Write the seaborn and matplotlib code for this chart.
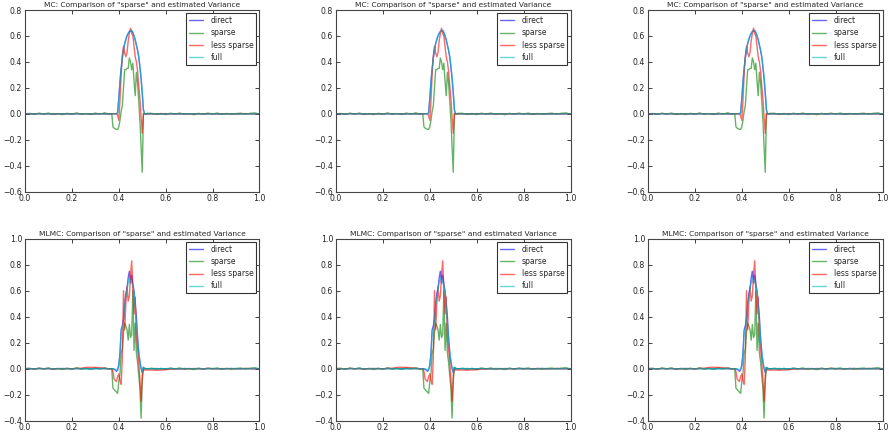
import matplotlib
matplotlib.use("Agg")
import matplotlib.pyplot as plt
import pandas as pd
import seaborn as sns

# ---------------- data ----------------
x_left = [0.00, 0.02, 0.04, 0.06, 0.08, 0.10, 0.12, 0.14, 0.16, 0.18,
          0.20, 0.22, 0.24, 0.26, 0.28, 0.30, 0.32, 0.34, 0.36]
x_mid = [0.370, 0.375, 0.380, 0.385, 0.390, 0.395, 0.400, 0.405, 0.410, 0.415,
         0.420, 0.425, 0.430, 0.435, 0.440, 0.445, 0.450, 0.455, 0.460, 0.465,
         0.470, 0.475, 0.480, 0.485, 0.490, 0.495, 0.500, 0.505, 0.510, 0.515, 0.520]
x_right = [0.54, 0.56, 0.58, 0.60, 0.62, 0.64, 0.66, 0.68, 0.70, 0.72, 0.74, 0.76,
           0.78, 0.80, 0.82, 0.84, 0.86, 0.88, 0.90, 0.92, 0.94, 0.96, 0.98, 1.00]

# quiet flat parts (direct / full)
quiet_left = [0.001, 0.0, -0.001, 0.001, 0.0, 0.001, -0.001, 0.0, 0.001, 0.0,
              -0.001, 0.001, 0.0, 0.001, -0.001, 0.0, 0.001, 0.0, 0.0]
quiet_right = [0.0, 0.001, -0.001, 0.0, 0.001, 0.0, -0.001, 0.001, 0.0, 0.0, 0.001, -0.001,
               0.0, 0.001, 0.0, -0.001, 0.0, 0.001, 0.0, -0.001, 0.001, 0.0, 0.001, 0.0]
# noisy flat parts (sparse)
noisy_left = [0.0, 0.003, -0.004, 0.005, -0.002, 0.006, -0.005, 0.002, -0.006, 0.004,
              -0.003, 0.007, -0.004, 0.002, -0.005, 0.006, -0.003, 0.008, -0.004]
noisy_right = [0.004, -0.005, 0.003, -0.006, 0.005, -0.002, 0.006, -0.004, 0.002, -0.007,
               0.004, -0.003, 0.005, -0.002, 0.006, -0.005, 0.003, -0.004, 0.002, 0.005,
               -0.003, 0.004, 0.007, -0.002]
# less sparse flat parts
less_left_mc = [0.0, 0.001, -0.001, 0.002, 0.0, 0.001, -0.002, 0.001, 0.0, 0.001,
                -0.001, 0.002, 0.0, 0.001, -0.001, 0.0, 0.002, -0.001, 0.0]
less_right_mc = [0.001, -0.001, 0.0, 0.002, -0.001, 0.0, 0.001, -0.002, 0.0, 0.001, 0.0, -0.001,
                 0.002, 0.0, -0.001, 0.001, 0.0, 0.001, -0.001, 0.0, 0.002, 0.0, -0.001, 0.0]
less_left_mlmc = [0.0, 0.001, -0.001, 0.002, 0.0, 0.001, -0.002, 0.001, 0.0, 0.001,
                  -0.001, 0.002, 0.004, 0.010, 0.011, 0.010, 0.008, 0.002, 0.0]
less_right_mlmc = [-0.010, -0.012, -0.010, -0.008, -0.004, -0.002, 0.0, -0.001, 0.0, 0.001, 0.0, -0.001,
                   0.002, 0.0, -0.001, 0.001, 0.0, 0.001, -0.001, 0.0, 0.002, 0.0, -0.001, 0.0]

mc_direct_mid = [0.0, 0.0, 0.0, 0.0, 0.0, 0.01, 0.12, 0.25, 0.35, 0.43,
                 0.49, 0.54, 0.57, 0.60, 0.62, 0.635, 0.64, 0.64, 0.625, 0.60,
                 0.57, 0.53, 0.49, 0.44, 0.36, 0.27, 0.16, 0.03, 0.0, 0.0, 0.0]
mc_full_mid = [0.0, 0.0, 0.0, 0.0, 0.0, 0.0, 0.11, 0.24, 0.35, 0.43,
               0.50, 0.54, 0.58, 0.60, 0.62, 0.63, 0.64, 0.645, 0.63, 0.60,
               0.57, 0.53, 0.49, 0.44, 0.37, 0.28, 0.17, 0.03, 0.0, 0.0, 0.0]
mc_less_mid = [0.0, 0.0, 0.0, 0.0, 0.0, -0.01, -0.05, 0.10, 0.30, 0.45,
               0.52, 0.47, 0.44, 0.47, 0.56, 0.62, 0.66, 0.62, 0.60, 0.52,
               0.44, 0.40, 0.33, 0.22, 0.12, -0.02, -0.15, 0.0, 0.0, 0.0, 0.0]
mc_sparse_mid = [0.002, -0.10, -0.11, -0.115, -0.12, -0.12, -0.10, -0.05, 0.02, 0.06,
                 0.20, 0.34, 0.34, 0.35, 0.35, 0.43, 0.40, 0.34, 0.39, 0.25,
                 0.14, 0.32, 0.24, 0.10, -0.05, -0.25, -0.45, 0.0, 0.003, -0.002, 0.004]

mlmc_direct_mid = [0.0, 0.0, -0.005, -0.01, -0.02, -0.01, 0.03, 0.12, 0.30, 0.33,
                   0.38, 0.50, 0.58, 0.62, 0.70, 0.75, 0.66, 0.72, 0.65, 0.60,
                   0.50, 0.40, 0.25, 0.12, 0.05, 0.0, -0.03, 0.01, 0.0, 0.0, 0.0]
mlmc_full_mid = [0.0, 0.0, 0.0, -0.005, -0.01, 0.0, 0.02, 0.10, 0.28, 0.31,
                 0.36, 0.48, 0.55, 0.60, 0.66, 0.70, 0.68, 0.66, 0.64, 0.58,
                 0.47, 0.35, 0.22, 0.14, 0.06, 0.01, -0.03, 0.01, 0.0, 0.0, 0.0]
mlmc_less_mid = [0.0, -0.02, -0.08, -0.09, -0.10, -0.06, -0.04, -0.09, -0.12, 0.08,
                 0.60, 0.30, 0.50, 0.63, 0.52, 0.56, 0.72, 0.83, 0.60, 0.42,
                 0.55, 0.25, 0.15, 0.05, -0.08, -0.25, -0.05, 0.0, -0.01, -0.01, -0.01]
mlmc_sparse_mid = [0.0, -0.15, -0.16, -0.17, -0.18, -0.19, -0.10, -0.04, 0.12, 0.15,
                   0.28, 0.35, 0.33, 0.30, 0.22, 0.34, 0.24, 0.26, 0.60, 0.14,
                   0.35, 0.12, 0.05, -0.05, -0.15, -0.38, -0.10, 0.01, 0.0, 0.003, -0.002]

series_names = ["direct", "sparse", "less sparse", "full"]
series_colors = {"direct": "#0000ff", "sparse": "#008000", "less sparse": "#ff0000", "full": "#00bfbf"}

x_all = x_left + x_mid + x_right
mc_series = {
    "direct": quiet_left + mc_direct_mid + quiet_right,
    "sparse": noisy_left + mc_sparse_mid + noisy_right,
    "less sparse": less_left_mc + mc_less_mid + less_right_mc,
    "full": quiet_left + mc_full_mid + quiet_right,
}
mlmc_series = {
    "direct": quiet_left + mlmc_direct_mid + quiet_right,
    "sparse": noisy_left + mlmc_sparse_mid + noisy_right,
    "less sparse": less_left_mlmc + mlmc_less_mid + less_right_mlmc,
    "full": quiet_left + mlmc_full_mid + quiet_right,
}

mc_title = 'MC: Comparison of "sparse" and estimated Variance'
mlmc_title = 'MLMC: Comparison of "sparse" and estimated Variance'
x_ticks = [0.0, 0.2, 0.4, 0.6, 0.8, 1.0]
mc_yticks = [-0.6, -0.4, -0.2, 0.0, 0.2, 0.4, 0.6, 0.8]
mlmc_yticks = [-0.4, -0.2, 0.0, 0.2, 0.4, 0.6, 0.8, 1.0]

# ---------------- style ----------------
sns.set_style("white")
plt.rcParams["font.family"] = ["DejaVu Sans"]
plt.rcParams.update({
    "xtick.direction": "in", "ytick.direction": "in",
    "xtick.top": True, "ytick.right": True,
    "xtick.bottom": True, "ytick.left": True,
    "xtick.major.size": 3, "ytick.major.size": 3,
    "xtick.major.width": 0.6, "ytick.major.width": 0.6,
    "xtick.major.pad": 2, "ytick.major.pad": 2,
    "xtick.color": "#222222", "ytick.color": "#222222",
    "axes.edgecolor": "#444444", "axes.linewidth": 0.8,
})

W, H = 889, 437
fig = plt.figure(figsize=(W / 100, H / 100), dpi=100)
lefts = [25, 336, 648]
aw = 234.5
rows = [(10, 191.7, mc_series, mc_title, mc_yticks),
        (238.7, 420.7, mlmc_series, mlmc_title, mlmc_yticks)]

for top, bot, sdict, title, yt in rows:
    df = pd.DataFrame({
        "x": x_all * 4,
        "value": sum((sdict[n] for n in series_names), []),
        "series": sum(([n] * len(x_all) for n in series_names), []),
    })
    for lp in lefts:
        ax = fig.add_axes([lp / W, 1 - bot / H, aw / W, (bot - top) / H])
        for n in series_names:
            sns.lineplot(data=df[df["series"] == n], x="x", y="value", ax=ax,
                         color=series_colors[n], alpha=0.6, linewidth=1.0,
                         label=n, estimator=None, sort=False)
        ax.set_xlim(0, 1)
        ax.set_ylim(yt[0], yt[-1])
        ax.set_xticks(x_ticks)
        ax.set_yticks(yt)
        ax.set_xticklabels([f"{v:.1f}" for v in x_ticks])
        ax.set_yticklabels([f"{v:.1f}".replace("-", "\u2212") for v in yt])
        ax.tick_params(labelsize=5.6)
        ax.set_xlabel("")
        ax.set_ylabel("")
        ax.set_title(title, fontsize=5.4, pad=2)
        leg = ax.legend(loc="upper right", fontsize=5.5, fancybox=False,
                        framealpha=1, edgecolor="#333333", borderaxespad=0.4,
                        labelspacing=0.42, handlelength=1.8, handletextpad=1.0,
                        borderpad=0.4)
        leg.get_frame().set_linewidth(0.8)

fig.savefig("out.png", dpi=100)
